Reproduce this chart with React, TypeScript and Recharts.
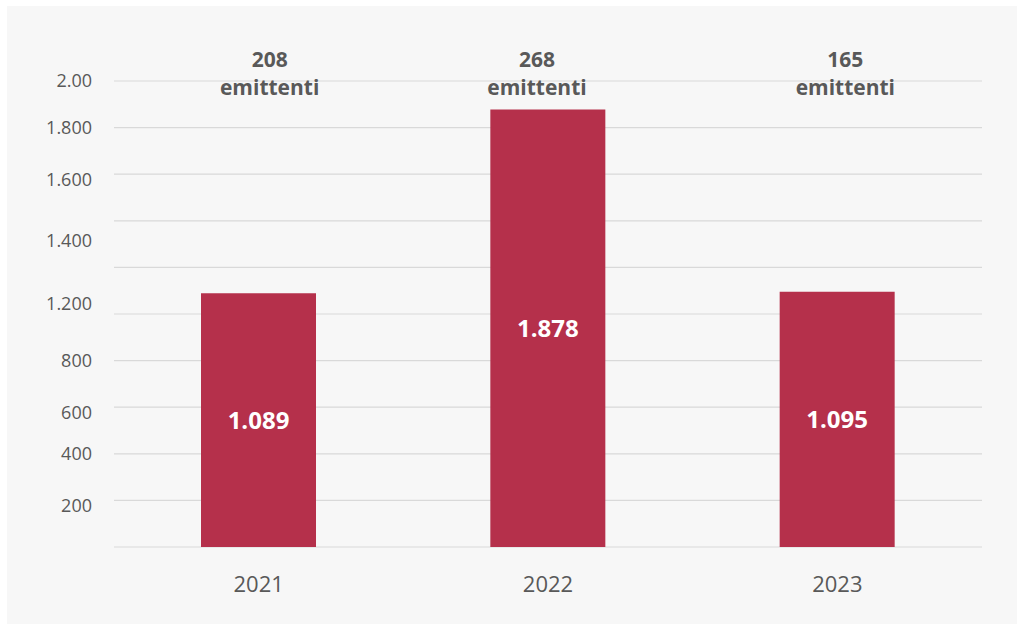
import React from 'react';
import { BarChart, Bar, XAxis, YAxis, CartesianGrid, LabelList } from 'recharts';

const years = ['2021', '2022', '2023'];
const amounts = [1089, 1878, 1095];
const issuers = [208, 268, 165];

// horizontal gridlines (every 200)
const gridValues = [0, 200, 400, 600, 800, 1000, 1200, 1400, 1600, 1800, 2000];
// the y labels sit where the source put them, not always on a gridline
const tickPositions = [178, 400, 577, 800, 1045, 1315, 1575, 1800, 2000];
const tickLabels = ['200', '400', '600', '800', '1.200', '1.400', '1.600', '1.800', '2.00'];

const data = years.map((year, i) => ({ year, amount: amounts[i], issuers: issuers[i] }));

const formatIt = (v: any) => String(v).replace(/\B(?=(\d{3})+(?!\d))/g, '.');

// the source's text boxes are not exactly centred over the bars
const issuerNudge = [11, -11, 8];

const IssuerTick = ({ x, y, payload, index }: any) => {
  const cx = x + (issuerNudge[index] || 0);
  return (
    <text x={cx} y={y} textAnchor="middle" fill="#595959" fontSize={21} fontWeight={700}>
      <tspan x={cx} dy={-14}>{payload.value}</tspan>
      <tspan x={cx} dy={28}>emittenti</tspan>
    </text>
  );
};

export default function App() {
  return (
    <div
      style={{
        position: 'fixed',
        left: 0,
        top: 0,
        width: 1017,
        height: 625,
        background: '#fff',
        fontFamily: "'Open Sans', sans-serif",
      }}
    >
      <div
        style={{
          position: 'absolute',
          left: 7,
          top: 6,
          width: 1010,
          height: 618,
          background: '#f7f7f7',
        }}
      >
        <BarChart width={1010} height={618} data={data} margin={{ top: 45, right: 35, bottom: 0, left: 0 }}>
          <CartesianGrid vertical={false} horizontalValues={gridValues} stroke="#d9d9d9" strokeWidth={1.2} />
          <XAxis
            dataKey="year"
            height={77}
            axisLine={false}
            tickLine={false}
            tickSize={0}
            tickMargin={29}
            tick={{ fill: '#595959', fontSize: 22 }}
          />
          <XAxis
            xAxisId="top"
            dataKey="issuers"
            orientation="top"
            height={30}
            axisLine={false}
            tickLine={false}
            tickSize={0}
            tickMargin={0}
            tick={<IssuerTick />}
          />
          <YAxis
            width={107}
            domain={[0, 2000]}
            ticks={tickPositions}
            interval={0}
            axisLine={false}
            tickLine={false}
            tickSize={0}
            tickMargin={22}
            tick={{ fill: '#595959', fontSize: 18 }}
            tickFormatter={(v: number) => tickLabels[tickPositions.indexOf(v)]}
          />
          <Bar dataKey="amount" fill="#b5304b" barSize={115} isAnimationActive={false}>
            <LabelList
              dataKey="amount"
              position="center"
              fill="#ffffff"
              fontSize={24}
              fontWeight={700}
              formatter={formatIt}
            />
          </Bar>
        </BarChart>
      </div>
    </div>
  );
}
